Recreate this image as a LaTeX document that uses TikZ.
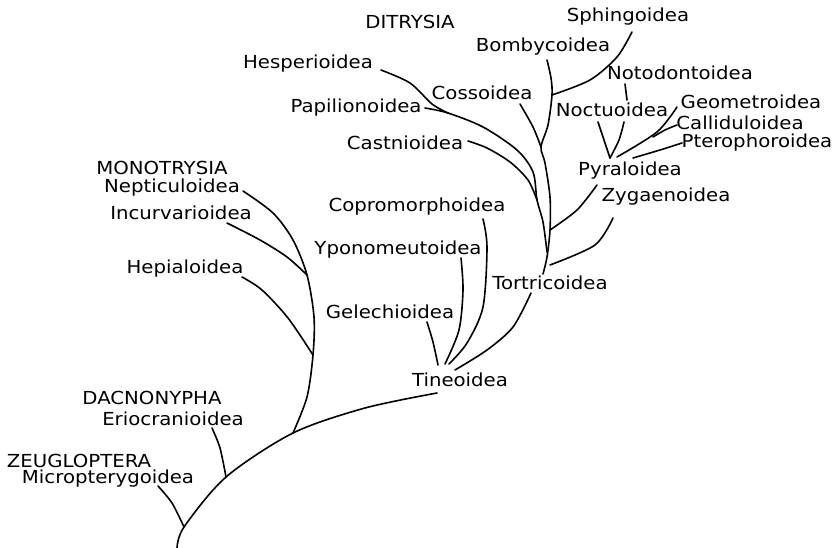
\documentclass[tikz,border=0pt]{standalone}
\usepackage{fontspec}
\setmainfont[FakeStretch=1.1]{DejaVu Sans}
\begin{document}
\begin{tikzpicture}[x=1bp,y=-1bp,
  lab/.style={font=\fontsize{18}{20}\selectfont, inner sep=0pt},
  br/.style={line width=1.6bp, line cap=round, line join=round}]
\useasboundingbox[fill=white] (0,0) rectangle (833,548);
% labels
\node[lab] (ditrysia) at (410,22) {DITRYSIA};
\node[lab] (sphl) at (628,17) {Sphingoidea};
\node[lab] (boml) at (543,47) {Bombycoidea};
\node[lab] (hesl) at (308,64) {Hesperioidea};
\node[lab] (notl) at (680,73) {Notodontoidea};
\node[lab] (cosl) at (482,93) {Cossoidea};
\node[lab] (geol) at (751,102) {Geometroidea};
\node[lab] (papl) at (356,108) {Papilionoidea};
\node[lab] (nocl) at (612,110) {Noctuoidea};
\node[lab] (call) at (740,123) {Calliduloidea};
\node[lab] (casl) at (405,143) {Castnioidea};
\node[lab] (ptel) at (757,143) {Pterophoroidea};
\node[lab] (pyrl) at (630,171) {Pyraloidea};
\node[lab] (zygl) at (666,197) {Zygaenoidea};
\node[lab] (copl) at (417,207) {Copromorphoidea};
\node[lab] (ypol) at (398,250) {Yponomeutoidea};
\node[lab] (tortl) at (550,283) {Tortricoidea};
\node[lab] (gell) at (390,312) {Gelechioidea};
\node[lab] (tinl) at (460,380) {Tineoidea};
\node[lab] (monol) at (162,168) {MONOTRYSIA};
\node[lab] (nepl) at (172,188) {Nepticuloidea};
\node[lab] (incl) at (181,213) {Incurvarioidea};
\node[lab] (hepl) at (185,269) {Hepialoidea};
\node[lab] (dacl) at (152,398) {DACNONYPHA};
\node[lab] (eril) at (173,419) {Eriocranioidea};
\node[lab] (zeul) at (79,461) {ZEUGLOPTERA};
\node[lab] (micl) at (108,479) {Micropterygoidea};
% coordinates
\coordinate (root) at (177,548);
\coordinate (jmic) at (184,527);
\coordinate (jeri) at (226,477);
\coordinate (jmon) at (293,433);
\coordinate (jtin) at (437,393);
\coordinate (mic) at (158,486);
\coordinate (eri) at (212,428);
\coordinate (jhep) at (313,355);
\coordinate (jinc) at (307,275);
\coordinate (nep) at (243,191);
\coordinate (inc) at (227,223);
\coordinate (hep) at (242,277);
\coordinate (gel) at (427,322);
\coordinate (jg) at (438,365);
\coordinate (ypo) at (461,258);
\coordinate (jy) at (445,364);
\coordinate (cop) at (483,219);
\coordinate (jc) at (449,364);
\coordinate (jt) at (455,370);
\coordinate (tort) at (531,293);
\coordinate (bom) at (547,60);
\coordinate (jsph) at (552,95);
\coordinate (jcos) at (541,147);
\coordinate (jpyr) at (550,230);
\coordinate (tortop) at (543,274);
\coordinate (jzyg) at (550,265);
\coordinate (pap) at (425,108);
\coordinate (jleft) at (537,200);
\coordinate (jmerge) at (547,252);
\coordinate (hes) at (381,70);
\coordinate (jhes) at (448,113);
\coordinate (cas) at (468,141);
\coordinate (cos) at (520,104);
\coordinate (sph) at (632,32);
\coordinate (pyr) at (597,185);
\coordinate (zyg) at (613,218);
\coordinate (nocL) at (598,122);
\coordinate (nocR) at (624,122);
\coordinate (jnoc) at (610,158);
\coordinate (notA) at (625,84);
\coordinate (notB) at (627,100);
\coordinate (geo) at (677,107);
\coordinate (jgeo) at (617,157);
\coordinate (cal) at (677,125);
\coordinate (jcal) at (653,137);
\coordinate (pte) at (682,143);
\coordinate (jpte) at (633,158);
% main trunk
\draw[br] plot[smooth] coordinates {(root) (jmic) (jeri) (jmon) (365,408) (jtin)};
\draw[br] plot[smooth] coordinates {(mic) (172,503) (jmic)};
\draw[br] plot[smooth] coordinates {(eri) (220,448) (jeri)};
% Monotrysia
\draw[br] plot[smooth] coordinates {(jmon) (307,397) (jhep) (314,317) (jinc) (293,240) (273,213) (nep)};
\draw[br] plot[smooth] coordinates {(inc) (260,240) (287,257) (jinc)};
\draw[br] plot[smooth] coordinates {(hep) (262,290) (288,318) (jhep)};
% Tineoidea group
\draw[br] plot[smooth] coordinates {(gel) (433,342) (jg)};
\draw[br] plot[smooth] coordinates {(ypo) (463,290) (459,330) (jy)};
\draw[br] plot[smooth] coordinates {(cop) (487,247) (483,307) (467,343) (jc)};
\draw[br] plot[smooth] coordinates {(jt) (487,350) (513,327) (tort)};
% Ditrysia trunk
\draw[br] plot[smooth] coordinates {(bom) (551,78) (jsph) (548,125) (jcos) (545,163) (550,197) (jpyr) (547,257) (tortop)};
\draw[br] plot[smooth] coordinates {(pap) (jhes) (483,127) (517,150) (533,172) (jleft) (543,222) (jmerge)};
\draw[br] plot[smooth] coordinates {(hes) (410,83) (432,104) (jhes)};
\draw[br] plot[smooth] coordinates {(cas) (487,148) (510,162) (528,180) (jleft)};
\draw[br] plot[smooth] coordinates {(cos) (533,127) (jcos)};
\draw[br] plot[smooth] coordinates {(sph) (617,57) (590,80) (jsph)};
\draw[br] plot[smooth] coordinates {(pyr) (577,210) (jpyr)};
\draw[br] plot[smooth] coordinates {(zyg) (595,245) (jzyg)};
% Pyraloidea group
\draw[br] plot[smooth] coordinates {(nocL) (604,140) (jnoc)};
\draw[br] plot[smooth] coordinates {(nocR) (619,140) (jnoc)};
\draw[br] (notA) -- (notB);
\draw[br] plot[smooth] coordinates {(geo) (657,132) (jgeo)};
\draw[br] plot[smooth] coordinates {(cal) (665,130) (jcal)};
\draw[br] plot[smooth] coordinates {(pte) (660,150) (jpte)};
\end{tikzpicture}
\end{document}
